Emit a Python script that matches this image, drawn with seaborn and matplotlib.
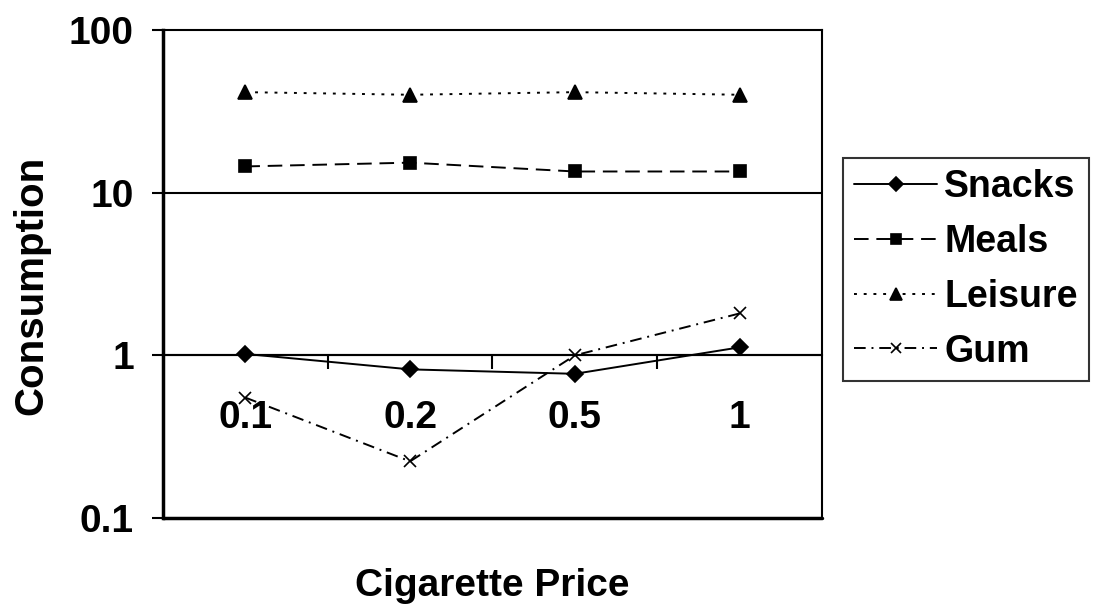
import pandas as pd
import seaborn as sns
import matplotlib.pyplot as plt
from matplotlib.lines import Line2D

# Data
prices = ["0.1", "0.2", "0.5", "1"]
snacks = [1.02, 0.82, 0.77, 1.12]
meals = [14.5, 15.3, 13.5, 13.5]
leisure = [41.5, 40.0, 41.5, 40.0]
gum = [0.55, 0.223, 1.0, 1.81]

series = ["Snacks", "Meals", "Leisure", "Gum"]
values = [snacks, meals, leisure, gum]

df = pd.DataFrame({
    "price": [i for _ in series for i in range(len(prices))],
    "series": [s for s in series for _ in prices],
    "value": [v for vals in values for v in vals],
})

sns.set_theme(style="white")
plt.rcParams['font.family'] = ['Liberation Sans', 'DejaVu Sans']
plt.rcParams['font.weight'] = 'bold'
plt.rcParams['text.color'] = 'black'
plt.rcParams['xtick.color'] = 'black'
plt.rcParams['ytick.color'] = 'black'
plt.rcParams['axes.labelcolor'] = 'black'

fig, ax = plt.subplots(figsize=(10.96, 6.09), dpi=100)
fig.subplots_adjust(left=0.1487, right=0.75, top=0.9507, bottom=0.1494)

markers = {"Snacks": "D", "Meals": "s", "Leisure": "^", "Gum": "x"}
dashes = {"Snacks": None, "Meals": (7.5, 4), "Leisure": (1.5, 3.5),
          "Gum": (6, 3, 1, 3)}
msize = {"Snacks": 8.5, "Meals": 9, "Leisure": 9.5, "Gum": 9}

# one call per series: filled and line-art markers can't share a style mapping
for s in series:
    sub = df[df["series"] == s]
    ls = "-" if dashes[s] is None else (0, dashes[s])
    sns.lineplot(data=sub, x="price", y="value", color="black", marker=markers[s],
                 markersize=msize[s], linewidth=1.4, markeredgewidth=1.2,
                 markeredgecolor="black", linestyle=ls, ax=ax, legend=False)

ax.set_yscale("log")
ax.set_ylim(0.1, 100)
ax.set_xlim(-0.5, 3.5)

# y axis
ax.set_yticks([0.1, 1, 10, 100])
ax.set_yticklabels(["0.1", "1", "10", "100"])
ax.minorticks_off()
ax.tick_params(axis="y", which="major", direction="out", length=8, width=1.5,
               labelsize=28, pad=13, left=True, color="black")

# horizontal gridlines
for g in [1, 10]:
    ax.axhline(g, color="black", lw=1.5, zorder=0)

# x axis crosses at 1
ax.spines["bottom"].set_position(("data", 1))
ax.axhline(0.1, color="black", lw=2.5, clip_on=False)
ax.set_xticks([0.5, 1.5, 2.5])
ax.set_xticklabels([])
ax.set_xticks(range(len(prices)), minor=True)
ax.set_xticklabels(prices, minor=True)
ax.tick_params(axis="x", which="major", direction="out", length=10, width=1.5,
               bottom=True, color="black")
ax.tick_params(axis="x", which="minor", length=0, labelsize=28, pad=32)

for side in ["left", "right", "top", "bottom"]:
    ax.spines[side].set_color("black")
    ax.spines[side].set_linewidth(1.5)
ax.spines["left"].set_linewidth(2.5)

ax.set_xlabel("")
ax.set_ylabel("")
fig.text(0.449, 0.038, "Cigarette Price", fontsize=28, fontweight="bold",
         ha="center", va="center")
fig.text(0.029, 0.532, "Consumption", fontsize=29, fontweight="bold",
         ha="center", va="center", rotation=90)

handles = [Line2D([0], [0], color="black", lw=1.4, marker=markers[s],
                  markersize=msize[s] - 1.5, markeredgewidth=1.2,
                  linestyle="-" if dashes[s] is None else (0, dashes[s]))
           for s in series]
leg = fig.legend(handles, series, loc="upper left",
                 bbox_to_anchor=(843 / 1096, 1 - 158 / 609),
                 prop={"size": 27, "weight": "bold"}, frameon=True,
                 fancybox=False, edgecolor="black", handlelength=2.2,
                 handletextpad=0.2, labelspacing=0.5, borderpad=0.3,
                 borderaxespad=0)
leg.get_frame().set_linewidth(1.5)

fig.savefig("out.png", dpi=100, facecolor="white")
